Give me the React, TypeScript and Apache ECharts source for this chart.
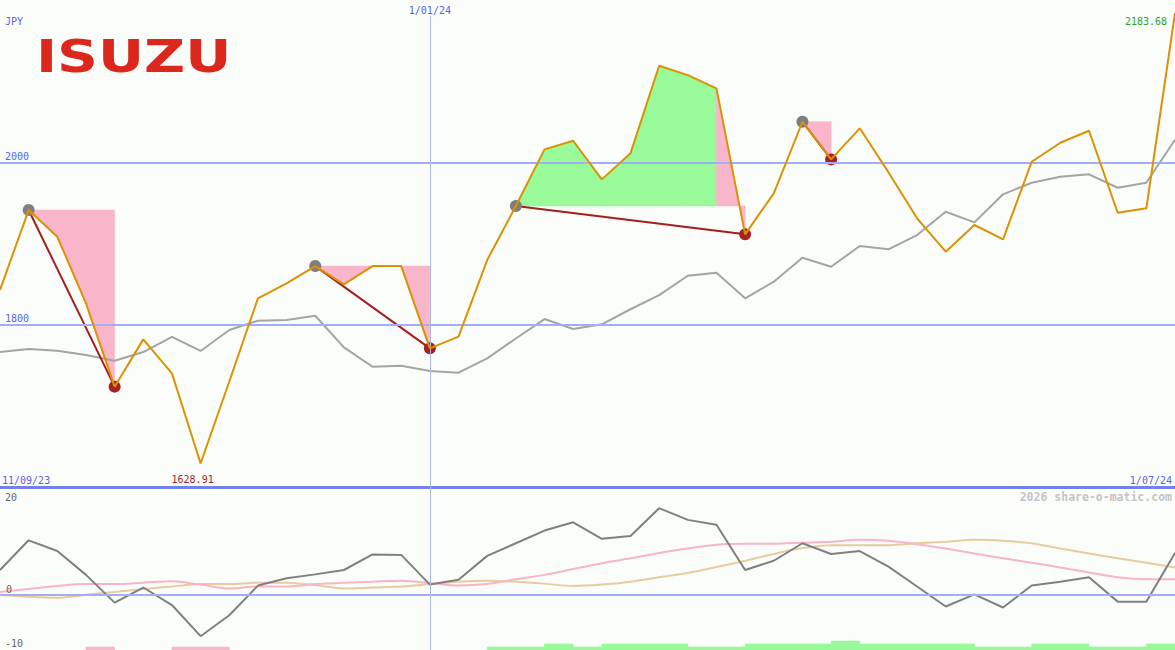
import React, { useEffect, useRef } from 'react';
import * as echarts from 'echarts';

// ---------- data ----------
const dates = [
  '18/09/23', '25/09/23', '2/10/23', '9/10/23', '16/10/23', '23/10/23', '30/10/23', '6/11/23',
  '13/11/23', '20/11/23', '27/11/23', '4/12/23', '11/12/23', '18/12/23', '25/12/23', '1/01/24',
  '8/01/24', '15/01/24', '22/01/24', '29/01/24', '5/02/24', '12/02/24', '19/02/24', '26/02/24',
  '4/03/24', '11/03/24', '18/03/24', '25/03/24', '1/04/24', '8/04/24', '15/04/24', '22/04/24',
  '29/04/24', '6/05/24', '13/05/24', '20/05/24', '27/05/24', '3/06/24', '10/06/24', '17/06/24',
  '24/06/24', '1/07/24',
];
const periodStart = '11/09/23';
const currency = 'JPY';
const logoText = 'ISUZU';
const watermark = '2026 share-o-matic.com';

const price = [
  1842.7, 1941.2, 1908.3, 1826.3, 1723.6, 1781.9, 1740.0, 1628.91, 1730.0, 1832.4,
  1850.9, 1872.2, 1849.7, 1872.2, 1872.2, 1770.8, 1785.2, 1879.6, 1946.2, 2016.0,
  2026.6, 1979.0, 2011.1, 2119.0, 2107.5, 2091.1, 1911.3, 1961.8, 2050.0, 2003.6,
  2041.9, 1987.9, 1931.0, 1889.9, 1922.8, 1905.1, 2000.7, 2024.1, 2038.9, 1937.9,
  1943.3, 2183.68,
];
const average = [
  1766.3, 1770.0, 1767.9, 1762.6, 1755.6, 1766.3, 1785.0, 1767.6, 1793.4, 1804.9,
  1805.7, 1811.0, 1772.0, 1748.2, 1749.5, 1742.9, 1740.8, 1758.5, 1783.0, 1806.9,
  1794.6, 1800.4, 1819.0, 1836.4, 1860.3, 1864.0, 1832.4, 1852.9, 1882.5, 1871.4,
  1896.9, 1892.8, 1910.4, 1939.1, 1926.0, 1960.6, 1974.9, 1982.3, 1985.2, 1968.7,
  1974.9, 2027.9,
];
const momentum = [
  5.0, 11.1, 8.9, 4.0, -1.7, 1.4, -2.2, -8.6, -4.3, 1.8,
  3.3, 4.1, 5.0, 8.2, 8.1, 2.0, 3.0, 7.9, 10.5, 13.1,
  14.8, 11.4, 12.0, 17.7, 15.3, 14.3, 5.0, 6.9, 10.5, 8.3,
  8.9, 5.7, 1.6, -2.5, 0.0, -2.7, 1.8, 2.6, 3.5, -1.5,
  -1.5, 8.5,
];
const signalFast = [
  0.5, 1.1, 1.7, 2.1, 2.1, 2.4, 2.7, 2.0, 1.2, 1.6,
  1.6, 2.1, 2.4, 2.6, 2.8, 2.3, 1.8, 2.1, 3.1, 4.0,
  5.2, 6.4, 7.4, 8.5, 9.4, 10.2, 10.4, 10.4, 10.6, 10.8,
  11.2, 11.0, 10.3, 9.4, 8.4, 7.4, 6.5, 5.5, 4.5, 3.5,
  3.1, 3.1,
];
const signalSlow = [
  -0.1, -0.5, -0.7, -0.1, 0.5, 1.1, 1.6, 2.1, 2.1, 2.4,
  2.4, 1.9, 1.2, 1.4, 1.6, 2.1, 2.6, 2.8, 2.6, 2.2,
  1.7, 2.0, 2.6, 3.5, 4.4, 5.6, 6.9, 8.3, 9.5, 10.1,
  10.1, 10.1, 10.5, 10.8, 11.2, 11.0, 10.5, 9.4, 8.4, 7.4,
  6.5, 5.5,
];
// one value per week interval (between consecutive dates)
const trendBars = [
  0, 0, 0, -1, 0, 0, -1, -1, 0, 0,
  0, 0, 0, 0, 0, 0, 0, 1, 1, 2,
  1, 2, 2, 2, 1, 1, 2, 2, 2, 3,
  2, 2, 2, 2, 1, 1, 2, 2, 1, 1,
  2,
];
// [start index, end index] of drawdown swings
const swings = [
  [1, 4],
  [11, 15],
  [18, 26],
  [28, 29],
];
const monthMarkIndex = 15;
const priceLevels = [2000, 1800];

// ---------- styles ----------
const BG = '#fbfdfb';
const BLUE_TEXT = '#5563ee';
const GRID_BLUE = '#a3aef2';
const AXIS_BLUE = '#7282ea';
const ORANGE = '#dc9200';
const PINK = '#f9b5c9';
const GREEN = '#98fa98';
const DARK_RED = '#a51e1e';
const MONO = '"DejaVu Sans Mono", monospace';

export default function App() {
  const ref = useRef<HTMLDivElement>(null);

  useEffect(() => {
    document.body.style.margin = '0';
    document.body.style.background = BG;
    const chart = echarts.init(ref.current as HTMLDivElement, null, { renderer: 'svg' });

    const fillSegments: number[][] = [];
    swings.forEach(([s, e]) => {
      const level = price[s];
      for (let k = s; k < e; k++) {
        fillSegments.push([k, level, price[k], price[k + 1], price[k + 1] > level ? 1 : 0]);
      }
    });
    const swingData = swings.map(([s, e]) => [s, price[s], e, price[e]]);
    const barData = trendBars
      .map((v, i) => [i, v])
      .filter((d) => d[1] !== 0);

    const option: any = {
      animation: false,
      backgroundColor: BG,
      grid: [
        { left: 0, right: 0, top: 0, height: 487, outerBoundsMode: 'none' },
        { left: 0, right: 0, top: 497, height: 146, outerBoundsMode: 'none' },
        { left: 0, right: 0, top: 16, height: 634, outerBoundsMode: 'none' },
      ],
      xAxis: [
        {
          type: 'category',
          gridIndex: 0,
          data: dates,
          boundaryGap: false,
          axisLine: { show: true, onZero: false, lineStyle: { color: AXIS_BLUE, width: 3 } },
          axisTick: { show: false },
          axisLabel: { show: false },
          splitLine: { show: false },
        },
        {
          type: 'category',
          gridIndex: 1,
          data: dates,
          boundaryGap: false,
          show: false,
        },
        {
          type: 'value',
          gridIndex: 2,
          min: 0,
          max: dates.length - 1,
          show: false,
        },
      ],
      yAxis: [
        {
          type: 'value',
          gridIndex: 0,
          min: 1600,
          max: 2200,
          show: false,
          splitLine: { show: false },
        },
        {
          type: 'value',
          gridIndex: 1,
          min: -10,
          max: 20,
          interval: 10,
          axisLine: { show: false },
          axisTick: { show: false },
          splitLine: { show: false },
          axisLabel: {
            show: true,
            inside: true,
            margin: 5,
            verticalAlign: 'middle',
            color: '#666666',
            fontFamily: MONO,
            fontSize: 10,
            formatter: (v: number) => (v === 20 || v === -10 ? String(v) : ''),
          },
        },
        {
          type: 'value',
          gridIndex: 2,
          min: 0,
          max: 634 / 3,
          show: false,
        },
      ],
      series: [
        // drawdown / recovery fills
        {
          type: 'custom',
          xAxisIndex: 0,
          yAxisIndex: 0,
          z: 1,
          silent: true,
          data: fillSegments,
          renderItem: (params: any, api: any) => {
            const k = api.value(0);
            const level = api.value(1);
            const a = api.value(2);
            const b = api.value(3);
            const up = api.value(4);
            const pts = [
              api.coord([k, level]),
              api.coord([k, a]),
              api.coord([k + 1, b]),
              api.coord([k + 1, level]),
            ];
            const c = up ? GREEN : PINK;
            return {
              type: 'polygon',
              shape: { points: pts },
              style: { fill: c, stroke: c, lineWidth: 0.6 },
            };
          },
        },
        // moving average
        {
          type: 'line',
          xAxisIndex: 0,
          yAxisIndex: 0,
          z: 2,
          data: average,
          showSymbol: false,
          silent: true,
          lineStyle: { color: '#a4a4a4', width: 2 },
          markLine: {
            silent: true,
            symbol: ['none', 'none'],
            lineStyle: { color: GRID_BLUE, width: 2, type: 'solid' },
            label: {
              show: true,
              position: 'insideStartTop',
              distance: [5, 1],
              color: BLUE_TEXT,
              fontFamily: MONO,
              fontSize: 10,
              formatter: (p: any) => String(p.value),
            },
            data: priceLevels.map((v) => ({ yAxis: v })),
          },
        },
        // swing lines and markers
        {
          type: 'custom',
          xAxisIndex: 0,
          yAxisIndex: 0,
          z: 3,
          silent: true,
          data: swingData,
          renderItem: (params: any, api: any) => {
            const p0 = api.coord([api.value(0), api.value(1)]);
            const p1 = api.coord([api.value(2), api.value(3)]);
            return {
              type: 'group',
              children: [
                {
                  type: 'line',
                  shape: { x1: p0[0], y1: p0[1], x2: p1[0], y2: p1[1] },
                  style: { stroke: DARK_RED, lineWidth: 2 },
                },
                { type: 'circle', shape: { cx: p0[0], cy: p0[1], r: 6 }, style: { fill: '#7f7f7f' } },
                { type: 'circle', shape: { cx: p1[0], cy: p1[1], r: 6 }, style: { fill: '#a52222' } },
              ],
            };
          },
        },
        // price
        {
          type: 'line',
          xAxisIndex: 0,
          yAxisIndex: 0,
          z: 5,
          data: price,
          showSymbol: false,
          silent: true,
          lineStyle: { color: ORANGE, width: 2 },
          markPoint: {
            silent: true,
            symbol: 'circle',
            symbolSize: 1,
            itemStyle: { color: 'rgba(0,0,0,0)' },
            label: {
              show: true,
              position: 'inside',
              fontFamily: MONO,
              fontSize: 10,
              formatter: (p: any) => Number(p.value).toFixed(2),
            },
            data: [
              { type: 'min', label: { color: DARK_RED, offset: [-8, 16] } },
              { type: 'max', label: { color: '#2c9e2c', offset: [-29, 8] } },
            ],
          },
        },
        // lower panel
        {
          type: 'line',
          xAxisIndex: 1,
          yAxisIndex: 1,
          z: 2,
          data: signalSlow,
          smooth: 0.3,
          showSymbol: false,
          silent: true,
          lineStyle: { color: '#e6cd9c', width: 2 },
        },
        {
          type: 'line',
          xAxisIndex: 1,
          yAxisIndex: 1,
          z: 3,
          data: signalFast,
          smooth: 0.3,
          showSymbol: false,
          silent: true,
          lineStyle: { color: '#f8b4c8', width: 2 },
        },
        {
          type: 'line',
          xAxisIndex: 1,
          yAxisIndex: 1,
          z: 4,
          data: momentum,
          showSymbol: false,
          silent: true,
          lineStyle: { color: '#808080', width: 2 },
          markLine: {
            silent: true,
            symbol: ['none', 'none'],
            lineStyle: { color: GRID_BLUE, width: 2, type: 'solid' },
            label: {
              show: true,
              position: 'insideStartTop',
              distance: [6, 0],
              color: '#666666',
              fontFamily: MONO,
              fontSize: 10,
              formatter: (p: any) => String(p.value),
            },
            data: [{ yAxis: 0 }],
          },
        },
        // trend bars + month marker
        {
          type: 'custom',
          xAxisIndex: 2,
          yAxisIndex: 2,
          z: 1,
          silent: true,
          data: barData,
          renderItem: (params: any, api: any) => {
            const i = api.value(0);
            const v = api.value(1);
            const p0 = api.coord([i, 0]);
            const p1 = api.coord([i + 1, Math.abs(v)]);
            const c = v < 0 ? PINK : GREEN;
            return {
              type: 'rect',
              shape: { x: p0[0], y: p1[1], width: p1[0] - p0[0], height: p0[1] - p1[1] },
              style: { fill: c, stroke: c, lineWidth: 0.6 },
            };
          },
          markLine: {
            silent: true,
            symbol: ['none', 'none'],
            lineStyle: { color: '#aab6ee', width: 1, type: 'solid' },
            label: {
              show: true,
              position: 'end',
              distance: 1,
              color: BLUE_TEXT,
              fontFamily: MONO,
              fontSize: 10,
              formatter: () => dates[monthMarkIndex],
            },
            data: [{ xAxis: monthMarkIndex }],
          },
        },
      ],
      graphic: [
        {
          type: 'text',
          x: 5,
          y: 21,
          style: {
            text: currency,
            fill: BLUE_TEXT,
            font: `10px ${MONO}`,
            textAlign: 'left',
            textVerticalAlign: 'middle',
          },
        },
        {
          type: 'text',
          x: 36,
          y: 57,
          scaleX: 1.29,
          style: {
            text: logoText,
            fill: '#dc281c',
            font: 'bold 44px "DejaVu Sans"',
            textAlign: 'left',
            textVerticalAlign: 'middle',
          },
        },
        {
          type: 'text',
          x: 2,
          y: 480,
          style: {
            text: periodStart,
            fill: BLUE_TEXT,
            font: `10px ${MONO}`,
            textAlign: 'left',
            textVerticalAlign: 'middle',
          },
        },
        {
          type: 'text',
          x: 1172,
          y: 480,
          style: {
            text: dates[dates.length - 1],
            fill: BLUE_TEXT,
            font: `10px ${MONO}`,
            textAlign: 'right',
            textVerticalAlign: 'middle',
          },
        },
        {
          type: 'text',
          x: 1172,
          y: 497,
          style: {
            text: watermark,
            fill: '#c4c4c4',
            font: `bold 11.5px ${MONO}`,
            textAlign: 'right',
            textVerticalAlign: 'middle',
          },
        },
      ],
    };

    chart.setOption(option);
    return () => chart.dispose();
  }, []);

  return <div ref={ref} style={{ width: 1175, height: 650 }} />;
}
